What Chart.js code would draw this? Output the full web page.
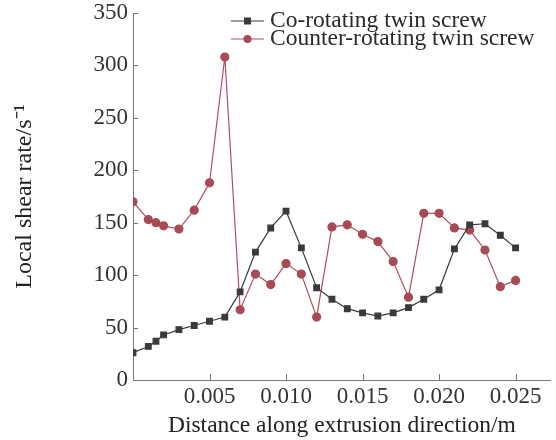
<!DOCTYPE html>
<html>
<head>
<meta charset="utf-8">
<script src="https://cdn.jsdelivr.net/npm/chart.js@4/dist/chart.umd.min.js"></script>
<style>
html, body { margin: 0; padding: 0; background: #fff; }
#wrap { width: 556px; height: 440px; }
</style>
</head>
<body>
<div id="wrap"><canvas id="myChart"></canvas></div>
<script>
// ****** Datos ******
const distancia = [0, 0.001, 0.0015, 0.002, 0.003, 0.004, 0.005, 0.006, 0.007, 0.008, 0.009,
    0.010, 0.011, 0.012, 0.013, 0.014, 0.015, 0.016, 0.017, 0.018, 0.019, 0.020,
    0.021, 0.022, 0.023, 0.024, 0.025];
const coRot = [26, 32, 37, 43, 48, 52, 56, 60, 84, 122, 145, 161, 126, 88, 77, 68, 64, 61,
    64, 69, 77, 86, 125, 148, 149, 138, 126];
const counterRot = [170, 153, 150, 147, 144, 162, 188, 308, 67, 101, 91, 111, 101, 60, 146, 148,
    139, 132, 113, 79, 159, 159, 145, 143, 124, 89, 95];
const xTicks = [0.005, 0.010, 0.015, 0.020, 0.025];
const yTicks = [0, 50, 100, 150, 200, 250, 300, 350];
const nombres = ['Co-rotating twin screw', 'Counter-rotating twin screw'];

const FONT = 'Liberation Serif, Times New Roman, serif';
const axisColor = '#777';

function pares(ys) {
    return distancia.map(function(x, i) { return {x: x, y: ys[i]}; });
}

// ticks hacia dentro + leyenda con linea y marcador
const extras = {
    id: 'extras',
    afterDraw(chart) {
        const ctx = chart.ctx;
        const xs = chart.scales.x, ys = chart.scales.y;
        const area = chart.chartArea;
        ctx.save();
        ctx.strokeStyle = axisColor;
        ctx.lineWidth = 1;
        ctx.beginPath();
        xTicks.forEach(function(v) {
            const px = Math.round(xs.getPixelForValue(v)) + 0.5;
            ctx.moveTo(px, area.bottom);
            ctx.lineTo(px, area.bottom - 6);
        });
        yTicks.forEach(function(v) {
            const py = Math.round(ys.getPixelForValue(v)) + 0.5;
            ctx.moveTo(area.left, py);
            ctx.lineTo(area.left + 5, py);
        });
        ctx.stroke();

        // leyenda
        const filas = [21, 39];
        chart.data.datasets.forEach(function(ds, i) {
            const y = filas[i];
            ctx.strokeStyle = ds.borderColor;
            ctx.lineWidth = 1.2;
            ctx.beginPath();
            ctx.moveTo(231, y);
            ctx.lineTo(264, y);
            ctx.stroke();
            ctx.fillStyle = ds.pointBackgroundColor;
            if (ds.pointStyle === 'rect') {
                ctx.fillRect(244, y - 3.5, 7, 7);
            } else {
                ctx.beginPath();
                ctx.arc(247.5, y, 4, 0, Math.PI * 2);
                ctx.fill();
            }
            ctx.fillStyle = '#2a2a2a';
            ctx.font = '23.5px ' + FONT;
            ctx.textBaseline = 'middle';
            ctx.textAlign = 'left';
            ctx.fillText(ds.label, 270, y);
        });
        ctx.restore();
    }
};

const ctx = document.getElementById('myChart').getContext('2d');
const myChart = new Chart(ctx, {
    type: 'line',
    data: {
        datasets: [{
            label: nombres[0],
            data: pares(coRot),
            borderColor: '#3a3a3a',
            backgroundColor: '#3a3a3a',
            pointBackgroundColor: '#3a3a3a',
            pointBorderColor: '#3a3a3a',
            pointStyle: 'rect',
            pointRadius: 4,
            borderWidth: 1.2,
            tension: 0
        },
        {
            label: nombres[1],
            data: pares(counterRot),
            borderColor: '#b0505c',
            backgroundColor: '#b0505c',
            pointBackgroundColor: '#a84a56',
            pointBorderColor: '#a84a56',
            pointStyle: 'circle',
            pointRadius: 4,
            borderWidth: 1.2,
            tension: 0
        }]
    },
    options: {
        responsive: true,
        maintainAspectRatio: false,
        animation: false,
        layout: { padding: { top: 13, right: 2, left: 0, bottom: 0 } },
        scales: {
            x: {
                type: 'linear',
                min: 0,
                max: 0.0273,
                afterBuildTicks: function(scale) {
                    scale.ticks = xTicks.map(function(v) { return {value: v}; });
                },
                afterFit: function(scale) {
                    scale.height = 60;
                    scale.paddingLeft = 0;
                    scale.paddingRight = 0;
                },
                grid: { display: true, drawOnChartArea: false, drawTicks: false, tickLength: 0 },
                border: { display: true, color: axisColor, width: 1 },
                ticks: {
                    padding: 3,
                    color: '#333',
                    font: { family: FONT, size: 23 },
                    callback: function(v) { return v.toFixed(3); }
                },
                title: {
                    display: true,
                    text: 'Distance along extrusion direction/m',
                    color: '#222',
                    font: { family: FONT, size: 23.5 },
                    padding: 0
                }
            },
            y: {
                min: 0,
                max: 350,
                afterBuildTicks: function(scale) {
                    scale.ticks = yTicks.map(function(v) { return {value: v}; });
                },
                afterFit: function(scale) {
                    scale.width = 133;
                    scale.paddingTop = 0;
                    scale.paddingBottom = 0;
                },
                grid: { display: true, drawOnChartArea: false, drawTicks: false, tickLength: 0 },
                border: { display: true, color: axisColor, width: 1 },
                ticks: {
                    padding: 5,
                    color: '#333',
                    font: { family: FONT, size: 23 }
                },
                title: {
                    display: true,
                    text: 'Local shear rate/s\u207B\u00B9',
                    color: '#222',
                    font: { family: FONT, size: 24 },
                    padding: { top: 10, bottom: 0 }
                }
            }
        },
        plugins: {
            legend: { display: false },
            tooltip: { enabled: false }
        }
    },
    plugins: [extras]
});
</script>
</body>
</html>
